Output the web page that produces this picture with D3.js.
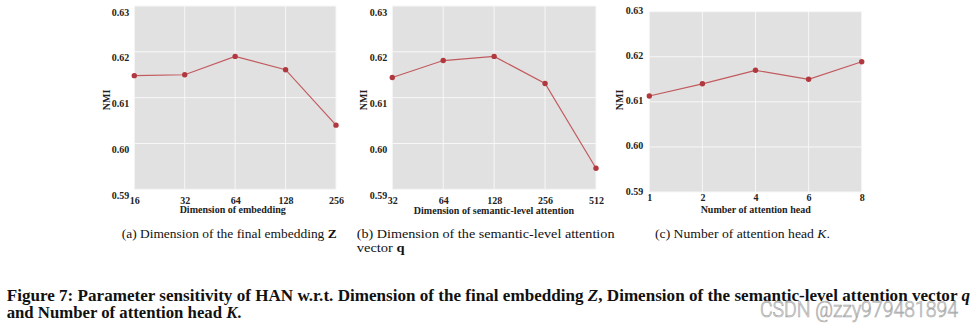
<!DOCTYPE html>
<html>
<head>
<meta charset="utf-8">
<script src="https://cdn.jsdelivr.net/npm/d3@7/dist/d3.min.js"></script>
<style>
  html, body { margin: 0; padding: 0; background: #fff; }
  svg { display: block; }
</style>
</head>
<body>
<svg id="fig" width="974" height="331"></svg>
<script>
// NMI of HAN for each hyper-parameter setting
const dimEmbedding = ["16", "32", "64", "128", "256"];
const nmiEmbedding = [0.6148, 0.6150, 0.6190, 0.6161, 0.6040];

const dimAttention = ["32", "64", "128", "256", "512"];
const nmiAttention = [0.6144, 0.6181, 0.6190, 0.6131, 0.5946];

const numHeads = ["1", "2", "4", "6", "8"];
const nmiHeads = [0.6113, 0.6140, 0.6170, 0.6150, 0.6189];

const nmiTicks = [0.59, 0.60, 0.61, 0.62, 0.63];
const nmiDomain = [0.59, 0.63];

const xTitles = ["Dimension of embedding", "Dimension of semantic-level attention", "Number of attention head"];

const serif = "'Liberation Serif', 'Times New Roman', serif";
const svg = d3.select("#fig");

// frame of each small panel
const panels = [
  { cats: dimEmbedding, vals: nmiEmbedding, title: xTitles[0],
    left: 134.3, right: 336, top: 6, bottom: 189.3,
    yLabDy: 9, xTickY: 204, titleX: 232.7, titleY: 213, nmiX: 106.7, yLabGap: 5 },
  { cats: dimAttention, vals: nmiAttention, title: xTitles[1],
    left: 392.3, right: 596, top: 6, bottom: 189.3,
    yLabDy: 9, xTickY: 204, titleX: 494, titleY: 214, nmiX: 363.3, yLabGap: 5 },
  { cats: numHeads, vals: nmiHeads, title: xTitles[2],
    left: 649.3, right: 861.7, top: 11.7, bottom: 192,
    yLabDy: 2, xTickY: 201, titleX: 755.7, titleY: 213, nmiX: 619, yLabGap: 6 }
];

panels.forEach(p => {
  const x = d3.scalePoint().domain(p.cats).range([p.left, p.right]);
  const y = d3.scaleLinear().domain(nmiDomain).range([p.bottom, p.top]);
  const g = svg.append("g");

  g.append("rect")
    .attr("x", p.left).attr("y", p.top)
    .attr("width", p.right - p.left).attr("height", p.bottom - p.top)
    .attr("fill", "#e1e1e1");

  // white grid
  g.selectAll("line.h").data(nmiTicks).join("line")
    .attr("x1", p.left).attr("x2", p.right)
    .attr("y1", d => y(d)).attr("y2", d => y(d))
    .attr("stroke", "#f7f7f7").attr("stroke-width", 1);
  g.selectAll("line.v").data(p.cats).join("line")
    .attr("x1", d => x(d)).attr("x2", d => x(d))
    .attr("y1", p.top).attr("y2", p.bottom)
    .attr("stroke", "#f7f7f7").attr("stroke-width", 1);

  // y axis labels
  const yAxis = d3.axisLeft(y).tickValues(nmiTicks).tickSize(0)
    .tickPadding(p.yLabGap).tickFormat(d3.format(".2f"));
  const ya = g.append("g").attr("transform", `translate(${p.left},0)`).call(yAxis)
    .attr("font-family", serif);
  ya.select(".domain").remove();
  ya.selectAll("text")
    .attr("dy", null).attr("y", p.yLabDy)
    .attr("font-family", serif).attr("font-weight", "bold")
    .attr("font-size", 10).attr("fill", "#222");

  // x axis labels
  const xAxis = d3.axisBottom(x).tickSize(0).tickPadding(0);
  const xa = g.append("g").attr("transform", `translate(0,${p.xTickY})`).call(xAxis)
    .attr("font-family", serif);
  xa.select(".domain").remove();
  xa.selectAll("text")
    .attr("dy", null).attr("y", 0)
    .attr("font-family", serif).attr("font-weight", "bold")
    .attr("font-size", 10).attr("fill", "#222");

  g.append("text")
    .attr("x", p.titleX).attr("y", p.titleY)
    .attr("text-anchor", "middle")
    .attr("font-family", serif).attr("font-weight", "bold")
    .attr("font-size", 10).attr("fill", "#222")
    .text(p.title);

  g.append("text")
    .attr("transform", `translate(${p.nmiX},100) rotate(-90)`)
    .attr("text-anchor", "middle").attr("dominant-baseline", "central")
    .attr("font-family", serif).attr("font-weight", "bold")
    .attr("font-size", 10).attr("fill", "#222")
    .text("NMI");

  // NMI curve
  const pts = p.cats.map((c, i) => [c, p.vals[i]]);
  g.append("path")
    .datum(pts)
    .attr("fill", "none").attr("stroke", "#c25a5e").attr("stroke-width", 1.2)
    .attr("d", d3.line().x(d => x(d[0])).y(d => y(d[1])));
  g.selectAll("circle").data(pts).join("circle")
    .attr("cx", d => x(d[0])).attr("cy", d => y(d[1]))
    .attr("r", 2.7).attr("fill", "#b1383e");
});

// a line of text stretched horizontally to a given width
function fittedLine(xPos, yPos, width, size, weight, parts) {
  const g = svg.append("g");
  const t = g.append("text")
    .attr("x", 0).attr("y", 0)
    .attr("font-family", serif).attr("font-weight", weight)
    .attr("font-size", size).attr("fill", "#111");
  parts.forEach(pt => {
    const s = t.append("tspan").text(pt.t);
    if (pt.b) s.attr("font-weight", "bold");
    if (pt.i) s.attr("font-style", "italic");
  });
  const w = t.node().getComputedTextLength();
  const sx = width ? width / w : 1;
  g.attr("transform", `translate(${xPos},${yPos}) scale(${sx},1)`);
}

// sub-figure captions
fittedLine(121.7, 238, 215, 13, "normal",
  [{ t: "(a)  Dimension of the final embedding " }, { t: "Z", b: true }]);
fittedLine(356.7, 237.7, 258, 13, "normal",
  [{ t: "(b)  Dimension of the semantic-level attention" }]);
fittedLine(356.7, 252, 48, 13, "normal",
  [{ t: "vector " }, { t: "q", b: true }]);
fittedLine(655, 238, 175, 13, "normal",
  [{ t: "(c)  Number of attention head " }, { t: "K", i: true }, { t: "." }]);

// figure caption, set in a narrow bold face
fittedLine(6.7, 300.7, 964, 16, "bold", [
  { t: "Figure 7: Parameter sensitivity of HAN w.r.t. Dimension of the final embedding " },
  { t: "Z", i: true },
  { t: ", Dimension of the semantic-level attention vector " },
  { t: "q", i: true }
]);
fittedLine(6.7, 318.3, 235, 16, "bold", [
  { t: "and Number of attention head " },
  { t: "K", i: true },
  { t: "." }
]);

// site watermark
(function () {
  const g = svg.append("g");
  const t = g.append("text")
    .attr("font-family", "Roboto, 'DejaVu Sans', sans-serif")
    .attr("font-weight", 300)
    .attr("font-size", 22)
    .attr("fill", "#e6e6e6").attr("fill-opacity", 0.85)
    .attr("stroke", "#a9a9a9").attr("stroke-width", 0.7)
    .text("CSDN @zzy979481894");
  const w = t.node().getComputedTextLength();
  g.attr("transform", `translate(760,317) scale(${198 / w},1)`);
})();
</script>
</body>
</html>
